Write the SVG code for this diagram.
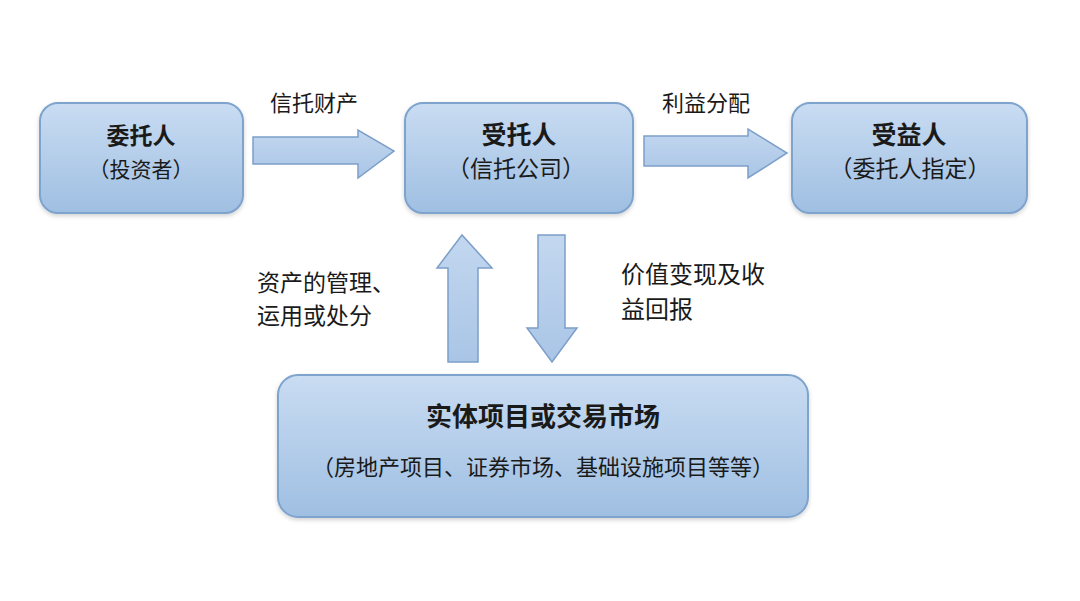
<svg xmlns="http://www.w3.org/2000/svg" width="1080" height="601" viewBox="0 0 1080 601">
<defs>
<linearGradient id="boxg" x1="0" y1="0" x2="0" y2="1">
<stop offset="0" stop-color="#c9dcf2"/>
<stop offset="1" stop-color="#9fbfe2"/>
</linearGradient>
<linearGradient id="arrg" x1="0" y1="0" x2="0" y2="1">
<stop offset="0" stop-color="#c3d7ef"/>
<stop offset="1" stop-color="#a9c5e6"/>
</linearGradient>
<filter id="sh" x="-10%" y="-10%" width="120%" height="130%">
<feDropShadow dx="0" dy="2" stdDeviation="2" flood-color="#000" flood-opacity="0.18"/>
</filter>
</defs>
<style>
.box{fill:url(#boxg);stroke:#7ea3cc;stroke-width:2;filter:url(#sh)}
.arr{fill:url(#arrg);stroke:#7c9fc9;stroke-width:1.5}
text{font-family:"Noto Sans CJK SC","Noto Sans",sans-serif;fill:#1a1a1a;text-anchor:middle}
.t{font-size:25px;font-weight:bold}
.s{font-size:22px}
.lbl{font-size:23px;text-anchor:start}
</style>
<rect width="1080" height="601" fill="#ffffff"/>
<g id="connectors">
<polygon class="arr" points="253,137 358,137 358,130 394,151 358,178 358,164 253,164"/>
<polygon class="arr" points="644,136 748,136 748,129 787,153 748,178 748,166 644,166"/>
<polygon class="arr" points="448,362 448,268 437,268 462,235 492,268 478,268 478,362"/>
<polygon class="arr" points="538,235 565,235 565,328 577,328 552,362 527,328 538,328"/>
<text class="lbl" x="270" y="111" style="font-size:22px">信托财产</text>
<text class="lbl" x="662" y="111" style="font-size:22px">利益分配</text>
<text class="lbl" x="257" y="291">资产的管理、</text>
<text class="lbl" x="257" y="324">运用或处分</text>
<text class="lbl" x="621" y="283" style="font-size:24px">价值变现及收</text>
<text class="lbl" x="621" y="318" style="font-size:24px">益回报</text>
</g>
<g id="node-weituoren">
<rect class="box" x="40" y="103" width="203" height="110" rx="18"/>
<text class="t" x="141" y="144" style="font-size:23px">委托人</text>
<text class="s" x="141" y="177" style="font-size:21px">（投资者）</text>
</g>
<g id="node-shoutuoren">
<rect class="box" x="405" y="103" width="228" height="110" rx="18"/>
<text class="t" x="519" y="144">受托人</text>
<text class="s" x="516" y="177" style="font-size:23px">（信托公司）</text>
</g>
<g id="node-shouyiren">
<rect class="box" x="792" y="103" width="235" height="110" rx="18"/>
<text class="t" x="909" y="144">受益人</text>
<text class="s" x="910" y="177" style="font-size:23px">（委托人指定）</text>
</g>
<g id="node-market">
<rect class="box" x="278" y="375" width="530" height="142" rx="20"/>
<text class="t" x="543" y="426" style="font-size:26px">实体项目或交易市场</text>
<text class="s" x="543" y="475">（房地产项目、证券市场、基础设施项目等等）</text>
</g>
</svg>
